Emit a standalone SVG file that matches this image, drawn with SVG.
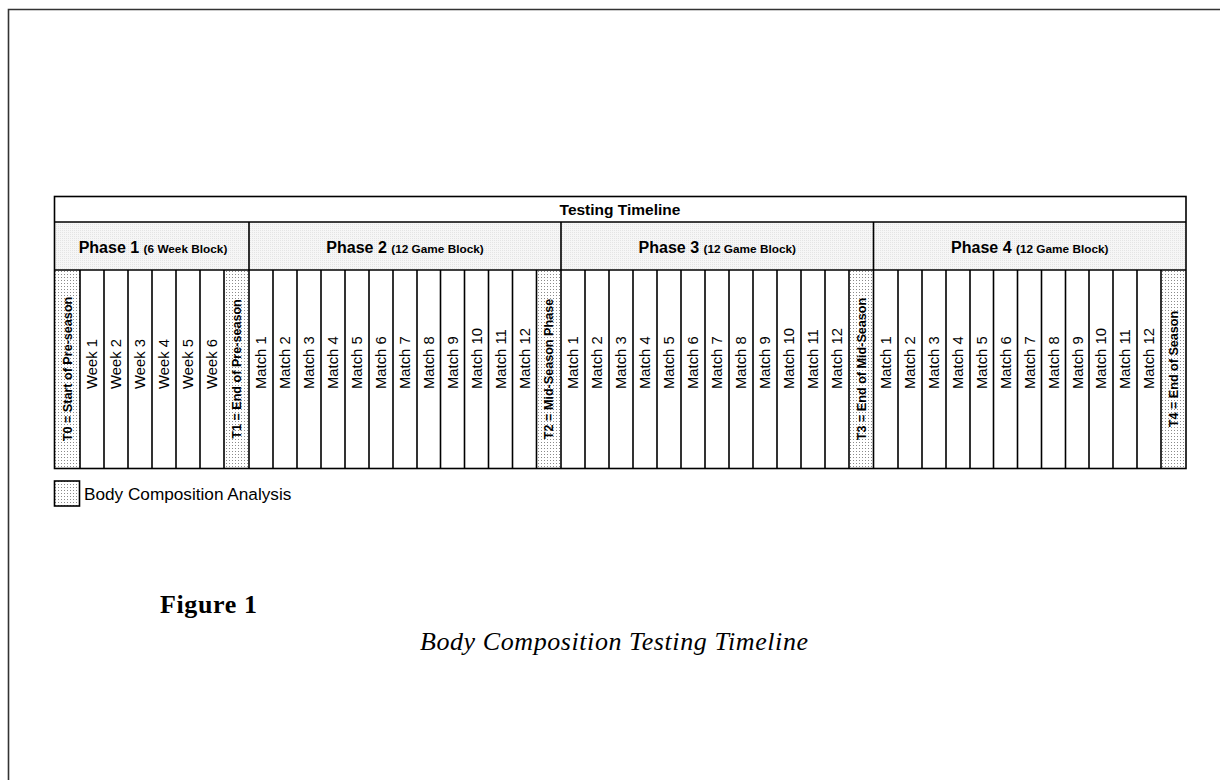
<svg xmlns="http://www.w3.org/2000/svg" width="1220" height="780" viewBox="0 0 1220 780">
<defs>
<pattern id="dots" width="3" height="3" patternUnits="userSpaceOnUse">
<rect width="3" height="3" fill="#ffffff"/>
<rect x="1" y="1" width="1" height="1" fill="#8a8a8a"/>
</pattern>
<pattern id="light" width="2" height="2" patternUnits="userSpaceOnUse">
<rect width="2" height="2" fill="#f6f6f6"/>
<rect width="1" height="1" fill="#e4e4e4"/>
</pattern>
</defs>
<style>
.ln{stroke:#000;stroke-width:1.6;fill:none}
.sans{font-family:"Liberation Sans",Arial,sans-serif;fill:#000}
.cell{font-family:"Liberation Sans",Arial,sans-serif;font-size:14.8px;fill:#000}
.tl{font-family:"Liberation Sans",Arial,sans-serif;font-size:12.6px;font-weight:bold;fill:#000}
.ph{font-family:"Liberation Sans",Arial,sans-serif;font-weight:bold;fill:#000}
.serif{font-family:"Liberation Serif","Times New Roman",serif;fill:#000}
</style>
<rect width="1220" height="780" fill="#ffffff"/>
<g id="page-border">
<path d="M8.5 780 V9.5 H1220" fill="none" stroke="#333" stroke-width="1.6"/>
</g>
<g id="table-fills">
<rect x="54.5" y="222" width="1131.5" height="48" fill="url(#light)"/>
<rect x="54.5" y="270" width="25.5" height="198.5" fill="url(#dots)"/>
<rect x="224" y="270" width="25" height="198.5" fill="url(#dots)"/>
<rect x="536.5" y="270" width="24.5" height="198.5" fill="url(#dots)"/>
<rect x="849" y="270" width="24.5" height="198.5" fill="url(#dots)"/>
<rect x="1161" y="270" width="25" height="198.5" fill="url(#dots)"/>
</g>
<g id="connectors">
<rect class="ln" x="54.5" y="196.5" width="1131.5" height="272"/>
<path class="ln" d="M54.5 222 H1186 M54.5 270 H1186"/>
<path class="ln" d="M249 222 V468.5 M561 222 V468.5 M873.5 222 V468.5"/>
<path class="ln" d="M80 270 V468.5 M104 270 V468.5 M128 270 V468.5 M152 270 V468.5 M176 270 V468.5 M200 270 V468.5 M224 270 V468.5"/>
<path class="ln" d="M273 270 V468.5 M297 270 V468.5 M321 270 V468.5 M345 270 V468.5 M369 270 V468.5 M393 270 V468.5 M417 270 V468.5 M440.5 270 V468.5 M464.5 270 V468.5 M488.5 270 V468.5 M512.5 270 V468.5 M536.5 270 V468.5"/>
<path class="ln" d="M585 270 V468.5 M609 270 V468.5 M633 270 V468.5 M657 270 V468.5 M681 270 V468.5 M705 270 V468.5 M729 270 V468.5 M753 270 V468.5 M777 270 V468.5 M801 270 V468.5 M825 270 V468.5 M849 270 V468.5"/>
<path class="ln" d="M898 270 V468.5 M922 270 V468.5 M946 270 V468.5 M970 270 V468.5 M993.5 270 V468.5 M1017.5 270 V468.5 M1041.5 270 V468.5 M1065.5 270 V468.5 M1089 270 V468.5 M1113 270 V468.5 M1137 270 V468.5 M1161 270 V468.5"/>
</g>
<g id="title">
<text class="sans" x="620" y="215" font-size="15.5" font-weight="bold" text-anchor="middle">Testing Timeline</text>
</g>
<g id="phase-1"><text class="ph" x="153" y="252.5" text-anchor="middle"><tspan font-size="16">Phase 1 </tspan><tspan font-size="11.8">(6 Week Block)</tspan></text></g>
<g id="phase-2"><text class="ph" x="405" y="252.5" text-anchor="middle"><tspan font-size="16">Phase 2 </tspan><tspan font-size="11.8">(12 Game Block)</tspan></text></g>
<g id="phase-3"><text class="ph" x="717.3" y="252.5" text-anchor="middle"><tspan font-size="16">Phase 3 </tspan><tspan font-size="11.8">(12 Game Block)</tspan></text></g>
<g id="phase-4"><text class="ph" x="1029.8" y="252.5" text-anchor="middle"><tspan font-size="16">Phase 4 </tspan><tspan font-size="11.8">(12 Game Block)</tspan></text></g>
<g id="t-labels">
<text class="tl" text-anchor="middle" transform="translate(71.5 369) rotate(-90)">T0 = Start of Pre-season</text>
<text class="tl" text-anchor="middle" transform="translate(240.8 369) rotate(-90)">T1 = End of Pre-season</text>
<text class="tl" text-anchor="middle" transform="translate(553 369) rotate(-90)">T2 = Mid-Season Phase</text>
<text class="tl" text-anchor="middle" transform="translate(865.5 369) rotate(-90)">T3 = End of Mid-Season</text>
<text class="tl" text-anchor="middle" transform="translate(1177.8 369) rotate(-90)">T4 = End of Season</text>
</g>
<g id="weeks">
<text class="cell" transform="translate(97.2 389) rotate(-90)">Week 1</text>
<text class="cell" transform="translate(121.2 389) rotate(-90)">Week 2</text>
<text class="cell" transform="translate(145.2 389) rotate(-90)">Week 3</text>
<text class="cell" transform="translate(169.2 389) rotate(-90)">Week 4</text>
<text class="cell" transform="translate(193.2 389) rotate(-90)">Week 5</text>
<text class="cell" transform="translate(217.2 389) rotate(-90)">Week 6</text>
</g>
<g id="phase-2-matches">
<text class="cell" transform="translate(266.2 389) rotate(-90)">Match 1</text>
<text class="cell" transform="translate(290.2 389) rotate(-90)">Match 2</text>
<text class="cell" transform="translate(314.2 389) rotate(-90)">Match 3</text>
<text class="cell" transform="translate(338.2 389) rotate(-90)">Match 4</text>
<text class="cell" transform="translate(362.2 389) rotate(-90)">Match 5</text>
<text class="cell" transform="translate(386.2 389) rotate(-90)">Match 6</text>
<text class="cell" transform="translate(410.2 389) rotate(-90)">Match 7</text>
<text class="cell" transform="translate(434 389) rotate(-90)">Match 8</text>
<text class="cell" transform="translate(457.7 389) rotate(-90)">Match 9</text>
<text class="cell" transform="translate(481.7 389) rotate(-90)">Match 10</text>
<text class="cell" transform="translate(505.7 389) rotate(-90)">Match 11</text>
<text class="cell" transform="translate(529.7 389) rotate(-90)">Match 12</text>
</g>
<g id="phase-3-matches">
<text class="cell" transform="translate(578.2 389) rotate(-90)">Match 1</text>
<text class="cell" transform="translate(602.2 389) rotate(-90)">Match 2</text>
<text class="cell" transform="translate(626.2 389) rotate(-90)">Match 3</text>
<text class="cell" transform="translate(650.2 389) rotate(-90)">Match 4</text>
<text class="cell" transform="translate(674.2 389) rotate(-90)">Match 5</text>
<text class="cell" transform="translate(698.2 389) rotate(-90)">Match 6</text>
<text class="cell" transform="translate(722.2 389) rotate(-90)">Match 7</text>
<text class="cell" transform="translate(746.2 389) rotate(-90)">Match 8</text>
<text class="cell" transform="translate(770.2 389) rotate(-90)">Match 9</text>
<text class="cell" transform="translate(794.2 389) rotate(-90)">Match 10</text>
<text class="cell" transform="translate(818.2 389) rotate(-90)">Match 11</text>
<text class="cell" transform="translate(842.2 389) rotate(-90)">Match 12</text>
</g>
<g id="phase-4-matches">
<text class="cell" transform="translate(891.2 389) rotate(-90)">Match 1</text>
<text class="cell" transform="translate(915.2 389) rotate(-90)">Match 2</text>
<text class="cell" transform="translate(939.2 389) rotate(-90)">Match 3</text>
<text class="cell" transform="translate(963.2 389) rotate(-90)">Match 4</text>
<text class="cell" transform="translate(987 389) rotate(-90)">Match 5</text>
<text class="cell" transform="translate(1010.7 389) rotate(-90)">Match 6</text>
<text class="cell" transform="translate(1034.7 389) rotate(-90)">Match 7</text>
<text class="cell" transform="translate(1058.7 389) rotate(-90)">Match 8</text>
<text class="cell" transform="translate(1082.5 389) rotate(-90)">Match 9</text>
<text class="cell" transform="translate(1106.2 389) rotate(-90)">Match 10</text>
<text class="cell" transform="translate(1130.2 389) rotate(-90)">Match 11</text>
<text class="cell" transform="translate(1154.2 389) rotate(-90)">Match 12</text>
</g>
<g id="legend">
<rect x="54.5" y="481" width="25" height="25" fill="url(#dots)" stroke="#000" stroke-width="1.6"/>
<text class="sans" x="84" y="499.5" font-size="17.2">Body Composition Analysis</text>
</g>
<g id="caption">
<text class="serif" x="160" y="613" font-size="26" font-weight="bold" textLength="97">Figure 1</text>
<text class="serif" x="420" y="650" font-size="26" font-style="italic" textLength="388">Body Composition Testing Timeline</text>
</g>
</svg>
